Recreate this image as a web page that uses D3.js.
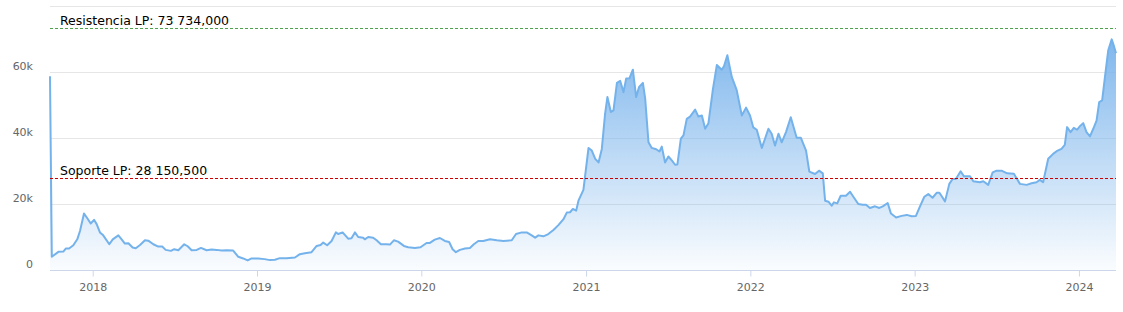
<!DOCTYPE html>
<html>
<head>
<meta charset="utf-8">
<script src="https://cdn.jsdelivr.net/npm/d3@7"></script>
<style>
  html, body { margin: 0; padding: 0; background: #fff; }
  svg { display: block; }
  text { font-family: "DejaVu Sans", "Lucida Grande", Arial, sans-serif; }
</style>
</head>
<body>
<svg id="chart" width="1123" height="312"></svg>
<script>
// ---- data (decimal years, values in thousands) ----
const dates = [
2017.740,2017.751,2017.791,2017.821,2017.836,2017.856,2017.882,2017.906,2017.923,2017.947,2017.964,2017.988,
2018.008,2018.024,2018.044,2018.064,2018.101,2018.122,2018.156,2018.176,2018.196,2018.217,2018.243,2018.262,
2018.288,2018.318,2018.338,2018.369,2018.399,2018.423,2018.444,2018.476,2018.496,2018.521,2018.557,2018.578,
2018.602,2018.633,2018.659,2018.693,2018.724,2018.754,2018.785,2018.815,2018.855,2018.886,2018.916,2018.943,
2018.967,2019.007,2019.046,2019.079,2019.109,2019.139,2019.180,2019.231,2019.261,2019.291,2019.332,2019.363,
2019.387,2019.403,2019.427,2019.454,2019.480,2019.494,2019.521,2019.555,2019.575,2019.596,2019.616,2019.646,
2019.656,2019.677,2019.707,2019.728,2019.754,2019.788,2019.809,2019.833,2019.859,2019.894,2019.920,2019.961,
2019.995,2020.032,2020.052,2020.082,2020.113,2020.143,2020.169,2020.190,2020.210,2020.234,2020.265,2020.295,
2020.319,2020.346,2020.376,2020.417,2020.458,2020.498,2020.549,2020.575,2020.610,2020.640,2020.670,2020.691,
2020.711,2020.741,2020.771,2020.802,2020.832,2020.863,2020.883,2020.903,2020.920,2020.940,2020.954,2020.984,
2021.015,2021.035,2021.056,2021.076,2021.096,2021.116,2021.130,2021.151,2021.167,2021.188,2021.208,2021.228,
2021.244,2021.264,2021.285,2021.305,2021.323,2021.346,2021.360,2021.380,2021.400,2021.427,2021.447,2021.461,
2021.481,2021.501,2021.522,2021.542,2021.556,2021.577,2021.593,2021.613,2021.633,2021.664,2021.684,2021.705,
2021.725,2021.745,2021.772,2021.796,2021.826,2021.840,2021.860,2021.887,2021.917,2021.948,2021.974,2021.998,
2022.018,2022.039,2022.070,2022.110,2022.130,2022.150,2022.171,2022.191,2022.217,2022.246,2022.282,2022.307,
2022.339,2022.359,2022.394,2022.418,2022.441,2022.455,2022.475,2022.495,2022.509,2022.529,2022.550,2022.582,
2022.607,2022.627,2022.657,2022.684,2022.704,2022.728,2022.759,2022.785,2022.806,2022.836,2022.856,2022.887,
2022.921,2022.952,2022.982,2023.008,2023.032,2023.059,2023.083,2023.109,2023.134,2023.151,2023.185,2023.211,
2023.231,2023.251,2023.280,2023.300,2023.337,2023.357,2023.397,2023.418,2023.448,2023.475,2023.499,2023.529,
2023.563,2023.604,2023.641,2023.682,2023.712,2023.742,2023.762,2023.782,2023.813,2023.843,2023.864,2023.894,
2023.914,2023.928,2023.949,2023.969,2023.989,2024.006,2024.026,2024.046,2024.067,2024.087,2024.107,2024.123,
2024.141,2024.158,2024.178,2024.199,2024.214,2024.225
];
const values = [
59.0,4.3,5.8,5.9,6.8,6.8,7.8,9.6,12.2,17.4,16.2,14.4,
15.5,14.2,11.7,10.8,8.1,9.6,10.8,9.6,8.3,8.4,7.1,6.9,
7.9,9.3,9.2,8.1,7.4,7.4,6.4,6.1,6.6,6.3,8.1,7.5,
6.3,6.4,7.0,6.3,6.5,6.4,6.2,6.3,6.2,4.3,3.8,3.2,
3.8,3.8,3.6,3.3,3.4,3.9,3.9,4.1,5.1,5.4,5.7,7.6,
7.9,8.6,7.8,9.1,11.7,11.2,11.7,9.8,9.9,11.7,10.3,10.1,
9.6,10.3,10.1,9.3,8.1,8.1,8.0,9.3,8.9,7.6,7.2,7.0,
7.2,8.5,8.5,9.5,10.0,9.1,8.8,6.6,5.7,6.4,6.8,7.0,
8.1,9.1,9.1,9.6,9.3,9.1,9.3,11.2,11.7,11.7,10.8,10.1,
10.8,10.5,11.2,12.4,13.9,15.7,17.7,17.8,18.8,18.3,21.3,24.6,
37.3,36.5,34.0,32.9,37.0,47.7,52.7,48.2,48.7,57.0,57.6,54.2,
58.3,58.4,61.0,52.7,55.8,57.0,52.2,39.0,37.3,36.9,36.2,37.7,
32.9,34.7,33.5,32.2,32.3,40.1,41.1,46.1,46.8,48.9,46.8,47.1,
43.1,44.8,55.0,62.4,61.0,62.1,65.4,58.8,54.8,47.1,49.5,47.1,
43.5,42.8,37.3,43.1,41.6,38.0,41.6,39.0,42.1,46.6,40.4,40.4,
36.5,30.1,29.4,30.4,29.6,21.3,21.0,19.8,20.8,20.5,22.8,22.8,
24.0,22.5,20.3,20.1,20.1,19.1,19.6,19.1,19.6,20.6,17.4,16.2,
16.7,17.0,16.6,16.7,19.5,22.5,23.3,22.2,23.7,23.7,21.1,26.4,
27.9,27.9,30.2,28.7,28.7,27.2,26.9,27.2,26.1,29.9,30.4,30.4,
29.6,29.5,26.4,26.1,26.6,26.9,27.6,26.9,34.0,35.5,36.3,37.0,
38.2,43.6,42.1,43.4,42.8,43.9,44.8,42.1,40.8,43.1,45.6,51.2,
51.7,58.8,66.9,70.2,67.9,66.0
];
const yTicks = [0, 20, 40, 60, 80];
const yTickLabels = ["0", "20k", "40k", "60k", ""];
const xTickYears = [2018, 2019, 2020, 2021, 2022, 2023, 2024];
const xTickLabels = ["2018", "2019", "2020", "2021", "2022", "2023", "2024"];
const levelValues = [73.734, 28.1505];
const levelLabels = ["Resistencia LP: 73 734,000", "Soporte LP: 28 150,500"];
const levelColors = ["#4ea24e", "#cc0000"];

// ---- helpers ----
function decYear(t) {
  const yr = Math.floor(t);
  const s = Date.UTC(yr, 0, 1), e = Date.UTC(yr + 1, 0, 1);
  return new Date(s + (t - yr) * (e - s));
}
const data = dates.map((d, i) => ({ date: decYear(d), value: values[i] }));

const svg = d3.select("#chart");
const plotLeft = 50, plotRight = 1116, plotTop = 7, plotBottom = 271;

const x = d3.scaleUtc()
  .domain([data[0].date, data[data.length - 1].date])
  .range([plotLeft, plotRight]);
const y = d3.scaleLinear().domain([0, 80]).range([plotBottom, plotTop]);

// gradient
const defs = svg.append("defs");
const grad = defs.append("linearGradient")
  .attr("id", "areaGrad")
  .attr("gradientUnits", "userSpaceOnUse")
  .attr("x1", 0).attr("x2", 0)
  .attr("y1", y(72)).attr("y2", plotBottom);
grad.append("stop").attr("offset", "0").attr("stop-color", "#7cb5ec").attr("stop-opacity", 1);
grad.append("stop").attr("offset", "1").attr("stop-color", "#7cb5ec").attr("stop-opacity", 0.03);

// grid lines
svg.append("g").selectAll("line")
  .data(yTicks.filter(v => v !== 0))
  .join("line")
  .attr("x1", plotLeft).attr("x2", plotRight)
  .attr("y1", d => Math.round(y(d)) - 0.5).attr("y2", d => Math.round(y(d)) - 0.5)
  .attr("stroke", "#e6e6e6").attr("stroke-width", 1);

// y labels
svg.append("g").selectAll("text")
  .data(yTicks)
  .join("text")
  .attr("x", 33)
  .attr("y", d => y(d) - 3.5)
  .attr("text-anchor", "end")
  .attr("font-size", 11)
  .attr("fill", "#666666")
  .text((d, i) => yTickLabels[i]);

// area + line
const area = d3.area()
  .x(d => x(d.date))
  .y0(y(0))
  .y1(d => y(d.value));
const line = d3.line()
  .x(d => x(d.date))
  .y(d => y(d.value));

svg.append("path")
  .datum(data)
  .attr("d", area)
  .attr("fill", "url(#areaGrad)");

svg.append("path")
  .datum(data)
  .attr("d", line)
  .attr("fill", "none")
  .attr("stroke", "#74b2eb")
  .attr("stroke-width", 2)
  .attr("stroke-linejoin", "round");

// x axis
const xAxis = d3.axisBottom(x)
  .tickValues(xTickYears.map(yy => decYear(yy)))
  .tickFormat((d, i) => xTickLabels[i])
  .tickSize(6)
  .tickPadding(7);
const gx = svg.append("g")
  .attr("transform", `translate(0,${plotBottom - 0.5})`)
  .call(xAxis);
gx.select(".domain").attr("stroke", "#ccd6eb").attr("d", `M${plotLeft},0H${plotRight}`);
gx.selectAll(".tick line").attr("stroke", "#ccd6eb");
gx.selectAll(".tick text")
  .attr("fill", "#666666")
  .attr("font-size", 11)
  .attr("font-family", "DejaVu Sans, sans-serif");

// level lines
levelValues.forEach((v, i) => {
  const yy = Math.round(y(v)) + 0.5;
  svg.append("line")
    .attr("x1", plotLeft).attr("x2", plotRight)
    .attr("y1", yy).attr("y2", yy)
    .attr("stroke", levelColors[i])
    .attr("stroke-width", 1)
    .attr("stroke-dasharray", "3,2");
  svg.append("text")
    .attr("x", 60)
    .attr("y", yy - 3.5)
    .attr("font-size", 12.5)
    .attr("fill", "#000")
    .text(levelLabels[i]);
});
</script>
</body>
</html>
